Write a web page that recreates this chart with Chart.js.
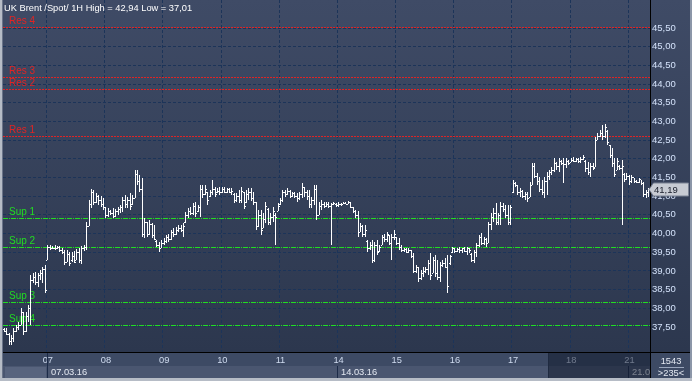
<!DOCTYPE html>
<html>
<head>
<meta charset="utf-8">
<script src="https://cdn.jsdelivr.net/npm/chart.js@4.4.1/dist/chart.umd.min.js"></script>
<style>
  html, body { margin: 0; padding: 0; background: #3c4862; }
  canvas { display: block; }
</style>
</head>
<body>
<canvas id="chart" width="692" height="381"></canvas>
<script>
/* UK Brent hourly OHLC chart */

const TITLE = "UK Brent /Spot/ 1H High = 42,94 Low = 37,01";

// days shown on the time axis and the bar where each one starts
const dayLabels   = ["04", "07", "08", "09", "10", "11", "14", "15", "16", "17", "18", "21"];
const dayStartBar = [0, 18, 42, 66, 90, 114, 138, 162, 186, 210, 234, 258];
const firstHour = 6;

const weekLabels   = ["07.03.16", "14.03.16", "21.03.16"];
const weekStartBar = [18, 138, 258];

const priceTicks = [37.5, 38, 38.5, 39, 39.5, 40, 40.5, 41, 41.5, 42, 42.5, 43, 43.5, 44, 44.5, 45, 45.5];

const resNames  = ["Res 1", "Res 2", "Res 3", "Res 4"];
const resLevels = [42.62, 43.86, 44.18, 45.54];
const supNames  = ["Sup 1", "Sup 2", "Sup 3", "Sup 4"];
const supLevels = [40.41, 39.63, 38.16, 37.55];

const highs = [
  37.47,37.47,37.33,37.28,37.47,37.55,37.63,38.00,37.90,37.90,38.08,38.89,38.94,38.97,38.94,39.03,39.11,39.16,
  39.69,39.69,39.67,39.70,39.66,39.68,39.62,39.55,39.55,39.50,39.50,39.52,39.58,39.60,39.68,39.70,40.30,40.90,41.20,41.16,41.08,41.03,41.00,40.95,
  40.71,40.68,40.63,40.68,40.66,40.71,40.76,40.98,41.03,40.98,41.08,41.03,41.70,41.70,41.57,41.49,40.42,40.31,40.36,40.28,40.23,39.82,39.77,39.82,
  39.88,39.96,40.00,40.10,40.15,40.17,40.23,40.23,40.28,40.58,40.68,40.71,40.82,40.84,40.76,41.30,41.30,41.30,41.11,41.16,41.43,41.25,41.22,41.25,
  41.25,41.24,41.21,41.23,41.21,41.09,41.08,41.17,41.25,41.12,41.17,41.21,41.21,41.12,40.85,40.63,40.63,40.54,40.85,40.68,40.54,40.72,40.54,40.81,
  40.94,41.17,41.17,41.21,41.17,41.12,41.12,41.08,41.12,41.34,41.25,41.17,41.17,40.99,41.30,41.30,40.85,40.90,40.85,40.85,40.85,40.81,40.85,40.81,
  40.85,40.83,40.85,40.85,40.87,40.85,40.72,40.63,40.59,40.27,40.23,40.23,39.83,39.78,39.83,39.78,39.83,39.69,39.96,40.00,40.05,39.96,40.00,40.10,
  39.92,39.87,39.69,39.60,39.60,39.60,39.56,39.47,39.16,39.11,39.03,39.11,39.11,39.29,39.47,39.38,39.43,39.29,39.25,39.29,39.34,39.43,39.43,39.64,
  39.61,39.61,39.64,39.62,39.64,39.64,39.62,39.48,39.56,39.75,39.96,40.01,39.91,39.88,40.31,40.55,40.68,40.82,40.55,40.84,40.82,40.76,40.76,40.76,
  41.43,41.38,41.30,41.22,41.17,41.11,41.11,41.38,41.89,41.89,41.62,41.51,41.43,41.51,41.65,41.70,41.78,42.02,41.91,42.02,41.97,42.02,42.02,41.97,
  42.02,42.05,42.02,42.02,42.05,42.10,41.97,41.91,41.89,41.89,42.58,42.69,42.77,42.90,42.94,42.77,42.37,42.29,42.02,42.02,41.83,41.97,41.62,41.62,
  41.57,41.57,41.49,41.43,41.49,41.43,41.38,41.17,41.22
];
const lows = [
  37.37,37.28,37.02,37.01,37.10,37.37,37.42,37.55,37.28,37.37,37.63,37.55,38.67,38.62,38.57,38.76,38.68,38.41,
  39.29,39.55,39.58,39.56,39.58,39.50,39.45,39.15,39.25,39.14,39.25,39.20,39.30,39.20,39.18,39.52,39.55,40.20,40.68,40.76,40.82,40.76,40.71,40.63,
  40.42,40.44,40.50,40.42,40.44,40.50,40.55,40.58,40.68,40.68,40.63,40.76,40.95,41.30,41.10,39.90,39.88,39.90,39.96,39.88,39.82,39.64,39.50,39.61,
  39.69,39.75,39.77,39.82,39.90,39.96,40.04,40.04,39.90,40.28,40.42,40.50,40.50,40.44,40.58,40.44,40.95,41.03,40.76,40.98,41.03,40.98,41.08,41.03,
  41.08,41.09,41.08,41.08,41.03,40.81,40.85,40.81,40.81,40.65,40.81,40.90,40.87,40.76,40.10,40.18,39.96,40.14,40.27,40.23,40.23,40.32,39.69,40.59,
  40.76,40.85,40.99,41.03,40.94,40.99,40.94,40.85,40.90,40.94,40.99,40.90,40.68,40.68,40.76,40.36,40.50,40.63,40.68,40.72,40.68,39.69,40.76,40.72,
  40.72,40.74,40.79,40.78,40.78,40.68,40.54,40.41,39.92,40.05,39.92,39.92,39.51,39.56,39.20,39.25,39.43,39.51,39.69,39.78,39.78,39.69,39.29,39.83,
  39.69,39.56,39.51,39.51,39.47,39.47,39.34,38.94,38.94,38.71,38.76,38.85,38.94,38.89,38.76,38.94,38.85,38.76,38.71,39.11,39.08,38.41,39.16,39.48,
  39.48,39.50,39.48,39.48,39.50,39.43,39.48,39.24,39.21,39.37,39.64,39.69,39.69,39.64,39.75,40.10,40.31,40.23,40.23,40.23,40.58,40.42,40.23,40.23,
  41.09,41.25,41.03,40.98,40.95,40.90,40.85,40.98,41.30,41.49,41.30,41.11,41.03,40.95,41.03,41.43,41.57,41.65,41.70,41.65,41.83,41.35,41.75,41.83,
  41.91,41.91,41.91,41.89,41.89,41.97,41.65,41.57,41.51,41.70,41.78,42.50,42.58,42.50,42.55,42.37,42.02,41.78,41.51,41.70,41.70,40.23,41.38,41.43,
  41.30,41.35,41.35,41.35,41.35,41.30,40.98,40.95,40.98
];
const opens = [
  37.45,37.40,37.30,37.12,37.20,37.40,37.50,37.55,37.90,37.40,37.80,38.00,38.75,38.85,38.70,38.90,38.95,39.05,
  39.30,39.65,39.60,39.62,39.60,39.63,39.55,39.50,39.25,39.45,39.28,39.40,39.30,39.50,39.30,39.60,39.65,40.20,40.80,41.10,40.85,41.00,40.90,40.80,
  40.70,40.50,40.60,40.55,40.48,40.60,40.65,40.70,40.90,40.80,40.90,40.78,40.95,41.60,41.40,41.20,40.00,40.30,40.00,40.25,39.95,39.80,39.70,39.62,
  39.75,39.80,39.90,39.85,40.05,40.00,40.10,40.15,40.10,40.30,40.50,40.60,40.55,40.75,40.60,40.70,41.20,41.05,41.10,41.00,41.10,41.20,41.10,41.15,
  41.10,41.20,41.12,41.18,41.10,41.05,40.90,41.00,40.90,41.10,40.85,41.05,41.10,40.95,40.85,40.20,40.50,40.15,40.40,40.65,40.30,40.45,40.50,40.60,
  40.78,40.90,41.10,41.05,41.15,41.00,41.08,41.00,40.95,41.05,41.25,41.10,41.00,40.80,40.90,41.20,40.50,40.75,40.80,40.75,40.80,40.75,40.78,40.80,
  40.76,40.80,40.80,40.83,40.80,40.84,40.70,40.60,40.50,40.05,40.20,40.00,39.80,39.60,39.70,39.30,39.70,39.52,39.70,39.90,39.85,39.95,39.75,39.90,
  39.90,39.75,39.65,39.55,39.58,39.50,39.55,39.40,39.00,39.10,38.80,38.95,39.00,39.05,39.20,38.95,39.30,38.95,38.85,39.15,39.20,39.10,39.20,39.50,
  39.60,39.52,39.58,39.55,39.60,39.52,39.60,39.45,39.30,39.50,39.70,39.90,39.75,39.85,39.75,40.25,40.45,40.55,40.30,40.50,40.75,40.65,40.50,40.30,
  41.10,41.35,41.30,41.10,41.15,41.00,41.05,40.98,41.30,41.80,41.55,41.40,41.20,41.10,41.40,41.55,41.65,41.70,41.90,41.80,41.95,41.90,41.85,41.95,
  41.92,41.98,41.95,42.00,41.93,42.00,41.95,41.75,41.65,41.80,41.78,42.50,42.60,42.70,42.60,42.75,42.37,42.10,41.90,41.70,41.80,41.75,41.60,41.45,
  41.55,41.40,41.50,41.40,41.38,41.45,41.35,41.05,41.10
];
const closes = [
  37.40,37.30,37.12,37.20,37.40,37.50,37.55,37.90,37.40,37.80,38.00,38.75,38.85,38.70,38.90,38.95,39.05,38.50,
  39.65,39.60,39.62,39.60,39.63,39.55,39.50,39.25,39.45,39.20,39.40,39.25,39.50,39.30,39.60,39.65,40.20,40.80,41.10,40.85,41.00,40.90,40.80,40.70,
  40.50,40.60,40.55,40.48,40.60,40.65,40.70,40.90,40.80,40.90,40.75,40.95,41.60,41.40,41.20,40.00,40.30,40.00,40.25,39.95,39.85,39.70,39.60,39.75,
  39.80,39.90,39.85,40.05,40.00,40.10,40.15,40.10,40.20,40.50,40.60,40.55,40.75,40.55,40.70,41.20,41.05,41.20,40.90,41.10,41.20,41.05,41.15,41.10,
  41.20,41.12,41.18,41.10,41.15,40.90,41.00,40.90,41.15,40.75,41.05,41.10,40.95,40.85,40.20,40.50,40.10,40.40,40.75,40.30,40.45,40.60,40.45,40.75,
  40.90,41.10,41.05,41.15,41.00,41.08,41.00,40.95,41.05,41.25,41.10,41.00,40.80,40.90,41.20,40.50,40.75,40.80,40.75,40.80,40.75,40.78,40.82,40.76,
  40.80,40.78,40.83,40.80,40.84,40.72,40.60,40.50,40.05,40.20,40.00,40.10,39.60,39.70,39.30,39.70,39.50,39.65,39.90,39.85,40.00,39.75,39.90,40.00,
  39.75,39.65,39.55,39.58,39.50,39.55,39.40,39.00,39.10,38.80,38.95,39.00,39.05,39.20,38.90,39.30,38.95,38.85,39.15,39.20,39.10,38.60,39.40,39.60,
  39.52,39.58,39.55,39.60,39.52,39.60,39.55,39.30,39.50,39.70,39.90,39.75,39.85,39.75,40.25,40.45,40.55,40.30,40.50,40.75,40.65,40.50,40.30,40.70,
  41.35,41.30,41.10,41.15,41.00,41.05,40.95,41.30,41.80,41.55,41.40,41.20,41.10,41.40,41.55,41.65,41.70,41.90,41.80,41.95,41.90,41.85,41.95,41.90,
  41.98,41.95,42.00,41.93,42.00,42.05,41.75,41.65,41.80,41.75,42.50,42.60,42.70,42.60,42.85,42.45,42.10,41.90,41.60,41.95,41.75,41.80,41.45,41.55,
  41.40,41.50,41.40,41.38,41.45,41.35,41.05,41.10,41.19
];

const FONT = '"Liberation Sans", Arial, sans-serif';
const GRID = "#1c3459";

// hourly category labels, e.g. "07 13:00"
const barLabels = highs.map(function(_, i) {
    let d = 0;
    while (d + 1 < dayStartBar.length && dayStartBar[d + 1] <= i) d++;
    const hour = i - dayStartBar[d] + (d === 0 ? firstHour : 0);
    return dayLabels[d] + " " + String(hour).padStart(2, "0") + ":00";
});

function priceText(v) { return v.toFixed(2).replace(".", ","); }

function dayIndex(i) { return dayStartBar.indexOf(i); }

function gridX(xs, i) {
    return Math.round((xs.getPixelForValue(i) + xs.getPixelForValue(i - 1)) / 2);
}

// no extra room for half tick labels, the plot fills the frame
function noLabelPadding(s) {
    s.paddingTop = 0; s.paddingBottom = 0;
    s.paddingLeft = 0; s.paddingRight = 0;
}

const chartPlugin = {
    id: "brent",
    beforeDraw(chart) {
        const { ctx, chartArea: a, width, height } = chart;
        ctx.save();
        ctx.fillStyle = "#3d4a64";
        ctx.fillRect(0, 0, width, height);
        const g = ctx.createLinearGradient(0, a.top, 0, a.bottom);
        g.addColorStop(0, "#3f4b66");
        g.addColorStop(1, "#2c374e");
        ctx.fillStyle = g;
        ctx.fillRect(a.left, a.top, width - a.left, a.bottom - a.top);
        // date row
        ctx.fillStyle = "#4a5670";
        ctx.fillRect(a.left, a.bottom + 14, a.right - a.left, 12);
        ctx.fillStyle = "#58647e";
        ctx.fillRect(a.left + 2, a.bottom + 15, 41, 11);
        ctx.restore();
    },
    beforeDatasetsDraw(chart) {
        const { ctx, chartArea: a } = chart;
        const ys = chart.scales.y;
        ctx.save();
        ctx.beginPath();
        ctx.rect(a.left, a.top, a.right - a.left, a.bottom - a.top);
        ctx.clip();
        ctx.lineWidth = 1;
        ctx.font = "10px " + FONT;
        const drawLevels = function(levels, names, color, dash) {
            levels.forEach(function(v, k) {
                const py = Math.round(ys.getPixelForValue(v)) + 0.5;
                ctx.strokeStyle = color;
                ctx.setLineDash(dash);
                ctx.beginPath();
                ctx.moveTo(a.left, py);
                ctx.lineTo(a.right, py);
                ctx.stroke();
                ctx.fillStyle = color;
                ctx.fillText(names[k], a.left + 6, py - 3.5);
            });
        };
        drawLevels(resLevels, resNames, "#e02424", [2, 1]);
        drawLevels(supLevels, supNames, "#22dc22", [5, 1, 1, 1]);
        ctx.restore();
    },
    beforeDatasetDraw(chart, args) {
        if (args.index !== 0) return;
        const ctx = chart.ctx;
        const ys = chart.scales.y;
        ctx.save();
        ctx.fillStyle = "#ffffff";
        args.meta.data.forEach(function(el, i) {
            const x = Math.floor(el.x);
            const top = Math.round(Math.min(el.y, el.base));
            const bot = Math.round(Math.max(el.y, el.base));
            ctx.fillRect(x, top, 1, Math.max(1, bot - top));
            ctx.fillRect(x - 1, Math.round(ys.getPixelForValue(opens[i])), 1, 1);
            ctx.fillRect(x + 1, Math.round(ys.getPixelForValue(closes[i])), 1, 1);
        });
        ctx.restore();
        return false;
    },
    afterDraw(chart) {
        const { ctx, chartArea: a, width, height } = chart;
        const xs = chart.scales.x, ys = chart.scales.y;
        ctx.save();

        // title
        ctx.font = "9.3px " + FONT;
        ctx.fillStyle = "#ffffff";
        ctx.textBaseline = "alphabetic";
        ctx.fillText(TITLE, a.left + 1, 11);

        // week dividers and date labels
        ctx.beginPath();
        ctx.rect(a.left, a.bottom, a.right - a.left, height - a.bottom);
        ctx.clip();
        ctx.fillStyle = "#1c2b48";
        weekStartBar.forEach(function(b, k) {
            const gx = gridX(xs, b);
            const top = k === 0 ? a.bottom : a.bottom + 14;
            ctx.fillRect(gx, top, 1, a.bottom + 26 - top);
            ctx.fillStyle = "#e4e9f2";
            ctx.fillText(weekLabels[k], gx + 4, a.bottom + 23);
            ctx.fillStyle = "#1c2b48";
        });
        // dimmed right part of the time axis
        ctx.fillStyle = "rgba(14, 22, 40, 0.5)";
        ctx.fillRect(549, a.bottom + 1, a.right - 549, 25);
        ctx.fillStyle = "#1f2a40";
        ctx.fillRect(548, a.bottom + 1, 1, 25);
        ctx.restore();

        ctx.save();
        // frame lines
        ctx.fillStyle = "#000000";
        ctx.fillRect(a.right, 0, 1, a.bottom + 26);
        ctx.fillRect(0, a.bottom, width, 1);
        ctx.fillStyle = "#b6bcc6";
        ctx.fillRect(0, a.bottom + 26, width, height - a.bottom - 26);
        ctx.fillRect(0, 0, 2, height);
        ctx.fillStyle = "#6a7489";
        ctx.fillRect(2, 0, 1, a.bottom + 26);
        ctx.fillStyle = "#8c96a8";
        ctx.fillRect(width - 2, 0, 2, a.bottom + 26);

        // last price tag
        const last = closes[closes.length - 1];
        const py = Math.round(ys.getPixelForValue(last)) + 0.5;
        ctx.beginPath();
        ctx.moveTo(a.right - 1, py);
        ctx.lineTo(a.right + 3.5, py - 6.5);
        ctx.lineTo(width - 3.5, py - 6.5);
        ctx.lineTo(width - 3.5, py + 6.5);
        ctx.lineTo(a.right + 3.5, py + 6.5);
        ctx.closePath();
        ctx.fillStyle = "#c7cbd3";
        ctx.fill();
        ctx.strokeStyle = "#7b8394";
        ctx.lineWidth = 1;
        ctx.stroke();
        ctx.fillStyle = "#1a1f2c";
        ctx.font = "9.5px " + FONT;
        ctx.textBaseline = "middle";
        ctx.fillText(priceText(last), a.right + 4, py + 0.5);

        // corner counter
        const cx = (a.right + width) / 2;
        ctx.textAlign = "center";
        ctx.textBaseline = "alphabetic";
        ctx.fillStyle = "#e4e9f2";
        ctx.font = "9.3px " + FONT;
        ctx.fillText("1543", cx, a.bottom + 12);
        ctx.fillText(">235<", cx, a.bottom + 24);
        ctx.fillStyle = "#9aa6bc";
        ctx.fillRect(cx - 12, a.bottom + 15, 25, 1);
        ctx.restore();
    }
};

new Chart(document.getElementById("chart"), {
    type: "bar",
    data: {
        labels: barLabels,
        datasets: [{
            data: lows.map(function(l, i) { return [l, highs[i]]; }),
            backgroundColor: "#ffffff",
            barThickness: 1
        }]
    },
    options: {
        responsive: false,
        devicePixelRatio: 1,
        animation: false,
        layout: { padding: { left: 3, top: 0, right: 0, bottom: 0 } },
        plugins: { legend: { display: false }, tooltip: { enabled: false } },
        scales: {
            x: {
                offset: true,
                afterFit: function(s) { s.height = 29; noLabelPadding(s); },
                grid: {
                    offset: true,
                    drawTicks: false,
                    color: function(c) { return dayIndex(c.index) > 0 ? GRID : "rgba(0,0,0,0)"; }
                },
                border: { display: false, dash: [3, 2] },
                ticks: {
                    autoSkip: false,
                    maxRotation: 0,
                    padding: 3,
                    color: "#d0dcf0",
                    font: { family: FONT, size: 9.3 },
                    callback: function(v, i) { const d = dayIndex(i); return d > 0 ? dayLabels[d] : ""; }
                }
            },
            y: {
                position: "right",
                min: 36.83,
                max: 46.25,
                afterBuildTicks: function(s) { s.ticks = priceTicks.map(function(v) { return { value: v }; }); },
                afterFit: function(s) { s.width = 42; noLabelPadding(s); },
                grid: { color: GRID, drawTicks: false },
                border: { display: false, dash: [3, 2] },
                ticks: {
                    padding: 2,
                    color: "#d4e2fa",
                    font: { family: FONT, size: 9.5 },
                    callback: function(v) { return priceText(v); }
                }
            }
        }
    },
    plugins: [chartPlugin]
});
</script>
</body>
</html>
